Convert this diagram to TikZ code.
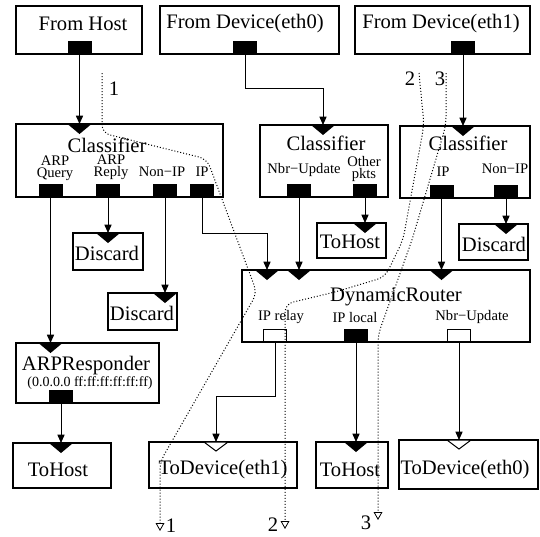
\documentclass[tikz,border=0pt]{standalone}
\usepackage{fontspec}
\setmainfont{Liberation Serif}
\usetikzlibrary{arrows.meta, positioning, calc}

% filled and open input ports (top edge of an element)
\newcommand{\inport}[3]{%
  \coordinate (#1) at (#2,#3);
  \fill (#1) ++(-12,0) -- ++(24,0) -- ++(-12,10) -- cycle;}
\newcommand{\inportw}[3]{%
  \coordinate (#1) at (#2,#3);
  \filldraw[fill=white, line width=0.5pt] (#1) ++(-12,0) -- ++(24,0) -- ++(-12,9) -- cycle;}

\begin{document}
\begin{tikzpicture}[x=0.5pt, y=-0.5pt, line width=0.5pt,
  box/.style={draw, inner sep=0pt, line width=0.6pt},
  lbl/.style={font=\fontsize{10.3}{12}\selectfont, inner sep=0pt},
  plbl/.style={font=\fontsize{7.3}{5.8}\selectfont, inner sep=0pt, align=center},
  sublbl/.style={font=\fontsize{7}{8}\selectfont, inner sep=0pt},
  outport/.style={draw, fill=black, inner sep=0pt, minimum width=11.5pt, minimum height=6pt, anchor=south},
  outportw/.style={outport, fill=white},
  conn/.style={-{Triangle[length=4.2pt,width=3.6pt]}},
  trace/.style={densely dotted, rounded corners=4pt, -{Triangle[open,length=4pt,width=4.4pt,line width=0.4pt]}}]
  \useasboundingbox (0,0) rectangle (540,536);

  % Sources
  \node[box, minimum width=63pt, minimum height=24pt] (fhost) at (79,30) {};
  \node[lbl] (fhost-t) at (83,24) {From Host};
  \node[outport] (fhost-o) at (79.5,54) {};
  \node[box, minimum width=89.5pt, minimum height=24pt] (fdev0) at (249.5,30) {};
  \node[lbl] (fdev0-t) at (245,24) {From Device(eth0)};
  \node[outport] (fdev0-o) at (245,54) {};
  \node[box, minimum width=87.5pt, minimum height=24pt] (fdev1) at (442.5,30) {};
  \node[lbl] (fdev1-t) at (441,24) {From Device(eth1)};
  \node[outport] (fdev1-o) at (463,54) {};

  % Classifiers
  \node[box, minimum width=103.5pt, minimum height=36.5pt] (cls1) at (119.5,160.5) {};
  \node[lbl] (cls1-t) at (107,145) {Classifier};
  \node[plbl] (cls1-ql) at (55,168.5) {ARP\\Query};
  \node[plbl] (cls1-rl) at (111,167.5) {ARP\\Reply};
  \node[plbl] (cls1-nl) at (162,172) {Non−IP};
  \node[plbl] (cls1-il) at (202,172) {IP};
  \node[outport] (cls1-q) at (50.5,197) {};
  \node[outport] (cls1-r) at (108,197) {};
  \node[outport] (cls1-n) at (165,197) {};
  \node[outport] (cls1-ip) at (202,197) {};
  \inport{cls1-in}{79.5}{124}

  \node[box, minimum width=64pt, minimum height=36pt] (cls2) at (324,161) {};
  \node[lbl] (cls2-t) at (326,143) {Classifier};
  \node[plbl] (cls2-nl) at (304,170) {Nbr−Update};
  \node[plbl] (cls2-ol) at (364,169) {Other\\pkts};
  \node[outport] (cls2-nu) at (299,197) {};
  \node[outport] (cls2-op) at (365,197) {};
  \inport{cls2-in}{323}{125}

  \node[box, minimum width=65pt, minimum height=36pt] (cls3) at (465,162) {};
  \node[lbl] (cls3-t) at (468,143) {Classifier};
  \node[plbl] (cls3-il) at (443,172) {IP};
  \node[plbl] (cls3-nl) at (505,169) {Non−IP};
  \node[outport] (cls3-ip) at (441.5,198) {};
  \node[outport] (cls3-non) at (506,198) {};
  \inport{cls3-in}{463}{126}

  % Discards and hosts
  \node[box, minimum width=35pt, minimum height=18.5pt] (disc1) at (108,251.5) {};
  \node[lbl] (disc1-t) at (107,253) {Discard};
  \inport{disc1-in}{108}{233}
  \node[box, minimum width=34.5pt, minimum height=17.5pt] (th2) at (351.5,240.5) {};
  \node[lbl] (th2-t) at (350,242) {ToHost};
  \inport{th2-in}{365}{223}
  \node[box, minimum width=34.5pt, minimum height=18pt] (disc3) at (493.5,242) {};
  \node[lbl] (disc3-t) at (494,244) {Discard};
  \inport{disc3-in}{506}{224}
  \node[box, minimum width=34.5pt, minimum height=18.5pt] (disc2) at (142.5,311.5) {};
  \node[lbl] (disc2-t) at (142,313) {Discard};
  \inport{disc2-in}{165}{293}

  % DynamicRouter
  \node[box, minimum width=144pt, minimum height=36pt] (dr) at (386,306) {};
  \node[lbl] (dr-t) at (396,297) {DynamicRouter};
  \node[plbl] (dr-rl) at (281,317) {IP relay};
  \node[plbl] (dr-ll) at (355,317) {IP local};
  \node[plbl] (dr-nl) at (472,317) {Nbr−Update};
  \node[outportw] (dr-relay) at (275,342) {};
  \node[outport] (dr-local) at (356,342) {};
  \node[outportw] (dr-nbr) at (459,342) {};
  \inport{dr-in1}{267}{270}
  \inport{dr-in2}{299}{270}
  \inport{dr-in3}{441.5}{270}

  % ARPResponder
  \node[box, minimum width=71.5pt, minimum height=30pt] (arp) at (87.5,373) {};
  \node[lbl] (arp-t) at (86,366) {ARPResponder};
  \node[sublbl] (arp-s) at (90,383) {(0.0.0.0 ff:ff:ff:ff:ff:ff)};
  \node[outport] (arp-o) at (61,403) {};
  \inport{arp-in}{50.5}{343}

  % Sinks
  \node[box, minimum width=49pt, minimum height=22.5pt] (th1) at (62,465.5) {};
  \node[lbl] (th1-t) at (58,470) {ToHost};
  \inport{th1-in}{61}{443}
  \node[box, minimum width=74pt, minimum height=23pt] (tdev1) at (223,465) {};
  \node[lbl] (tdev1-t) at (223,470) {ToDevice(eth1)};
  \inportw{tdev1-in}{216}{442}
  \node[box, minimum width=36pt, minimum height=23pt] (th3) at (352,465) {};
  \node[lbl] (th3-t) at (350,470) {ToHost};
  \inport{th3-in}{356}{442}
  \node[box, minimum width=69.5pt, minimum height=24.5pt] (tdev0) at (468.5,464.5) {};
  \node[lbl] (tdev0-t) at (465,470) {ToDevice(eth0)};
  \inportw{tdev0-in}{459}{440}

  % Connections
  \draw[conn] (fhost-o.south) -- (cls1-in);
  \draw[conn] (fdev0-o.south) -- ++(0,34) -| (cls2-in);
  \draw[conn] (fdev1-o.south) -- (cls3-in);
  \draw[conn] (cls1-q.south) -- (arp-in);
  \draw[conn] (cls1-r.south) -- (disc1-in);
  \draw[conn] (cls1-n.south) -- (disc2-in);
  \draw[conn] (cls1-ip.south) -- ++(0,36) -| (dr-in1);
  \draw[conn] (cls2-nu.south) -- (dr-in2);
  \draw[conn] (cls2-op.south) -- (th2-in);
  \draw[conn] (cls3-ip.south) -- (dr-in3);
  \draw[conn] (cls3-non.south) -- (disc3-in);
  \draw[conn] (arp-o.south) -- (th1-in);
  \draw[conn] (dr-relay.south) -- ++(0,54) -| (tdev1-in);
  \draw[conn] (dr-local.south) -- (th3-in);
  \draw[conn] (dr-nbr.south) -- (tdev0-in);

  % Packet traces
  \coordinate (p1-top) at (102,73);
  \coordinate (p1-end) at (160,531);
  \coordinate (p2-top) at (419,73);
  \coordinate (p2-end) at (285,529);
  \coordinate (p3-top) at (446,73);
  \coordinate (p3-end) at (378,520);
  \draw[trace] (p1-top) -- (102,133) -- (207,159) -- (257,293) -- (160,462) -- (p1-end);
  \draw[trace] (p2-top) -- (424,125) -- (403,240) -- (385,277) -- (335,292) -- (285,304) -- (p2-end);
  \draw[trace] (p3-top) -- (446,125) -- (412,240) -- (378,335) -- (p3-end);
  \node[lbl] (p1-a) at (114,89) {1};
  \node[lbl] (p2-a) at (410,79) {2};
  \node[lbl] (p3-a) at (440,79) {3};
  \node[lbl] (p1-b) at (171,526) {1};
  \node[lbl] (p2-b) at (273,525) {2};
  \node[lbl] (p3-b) at (366,523) {3};
\end{tikzpicture}
\end{document}
